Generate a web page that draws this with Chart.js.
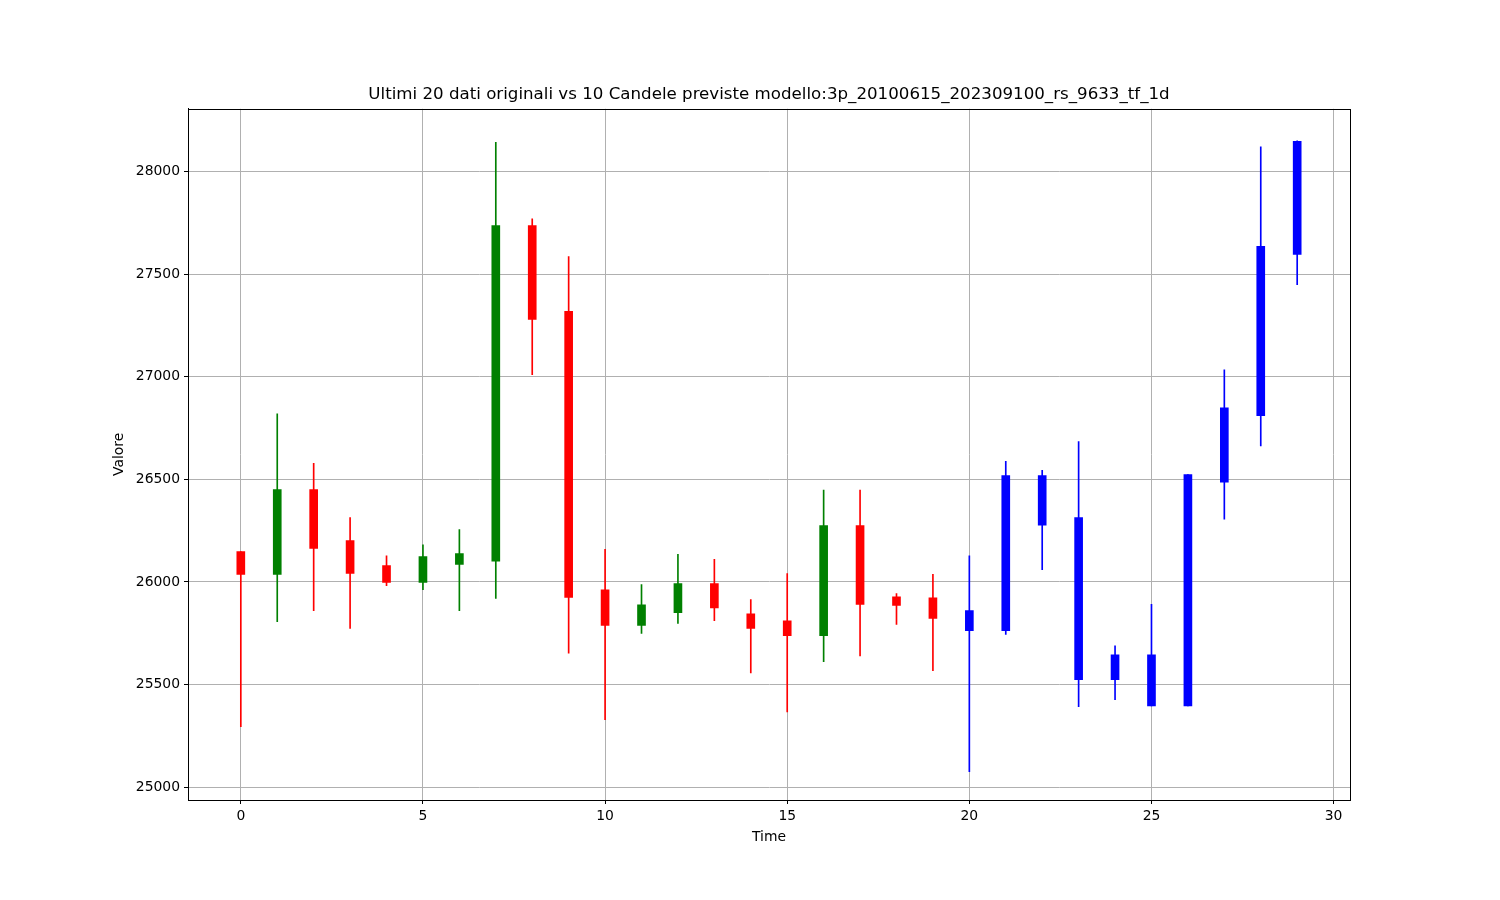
<!DOCTYPE html>
<html>
<head>
<meta charset="utf-8">
<script src="https://cdn.jsdelivr.net/npm/chart.js@4/dist/chart.umd.min.js"></script>
<style>
  html, body { margin: 0; padding: 0; background: #fff; }
  canvas { display: block; }
</style>
</head>
<body>
<canvas id="candleChart" width="1500" height="900"></canvas>
<script>
// dati: ultimi 20 originali + 10 candele previste
const times = [0, 1, 2, 3, 4, 5, 6, 7, 8, 9, 10, 11, 12, 13, 14, 15, 16, 17, 18, 19, 20, 21, 22, 23, 24, 25, 26, 27, 28, 29];
const nOriginali = 20;
const opens  = [26148, 26037, 26451, 26202, 26080, 25998, 26086, 26101, 27738, 27319, 25962, 25788, 25850, 25992, 25845, 25811, 25738, 26275, 25928, 25923,
                25860, 25762, 26519, 26314, 25524, 25645, 25396, 26487, 26811, 27597];
const closes = [26037, 26451, 26164, 26042, 25998, 26124, 26138, 27738, 27280, 25925, 25788, 25889, 25992, 25874, 25773, 25738, 26275, 25891, 25886, 25822,
                25762, 26519, 26277, 25524, 25645, 25396, 26524, 26849, 27636, 28148];
const highs  = [26148, 26820, 26578, 26314, 26128, 26181, 26255, 28143, 27771, 27587, 26159, 25987, 26135, 26110, 25914, 26041, 26448, 26448, 25943, 26037,
                26128, 26588, 26544, 26685, 25689, 25891, 26524, 27034, 28122, 28151];
const lows   = [25295, 25806, 25860, 25773, 25982, 25962, 25860, 25920, 27011, 25653, 25329, 25749, 25798, 25811, 25557, 25366, 25612, 25640, 25793, 25568,
                25075, 25744, 26060, 25392, 25426, 25396, 25396, 26306, 26663, 27450];

// etichette degli assi
const xTicks = [0, 5, 10, 15, 20, 25, 30];
const yTicks = [25000, 25500, 26000, 26500, 27000, 27500, 28000];

const colori = times.map((t, i) => {
    if (i >= nOriginali) return '#0000ff';
    return closes[i] >= opens[i] ? '#008000' : '#ff0000';
});

const bodyData = times.map((t, i) => ({ x: t, y: [Math.min(opens[i], closes[i]), Math.max(opens[i], closes[i])] }));
const wickData = times.map((t, i) => ({ x: t, y: [lows[i], highs[i]] }));

// cornice nera attorno all'area del grafico
const frame = {
    id: 'frame',
    afterDraw(chart) {
        const { ctx, chartArea: a } = chart;
        ctx.save();
        ctx.strokeStyle = '#000';
        ctx.lineWidth = 1;
        ctx.strokeRect(Math.round(a.left) + 0.5, Math.round(a.top) + 0.5, Math.round(a.right - a.left), Math.round(a.bottom - a.top));
        ctx.restore();
    }
};

const font = { family: 'DejaVu Sans', size: 13.9 };

new Chart(document.getElementById('candleChart'), {
    type: 'bar',
    data: {
        datasets: [
            {
                label: 'corpo',
                data: bodyData,
                backgroundColor: colori,
                borderWidth: 0,
                barThickness: 8,
                grouped: false
            },
            {
                label: 'ombra',
                data: wickData,
                backgroundColor: colori,
                borderWidth: 0,
                barThickness: 1,
                grouped: false
            }
        ]
    },
    options: {
        responsive: false,
        animation: false,
        layout: { padding: { left: 108, right: 150, top: 84.8, bottom: 50 } },
        plugins: {
            legend: { display: false },
            tooltip: { enabled: false },
            title: {
                display: true,
                fullSize: false,
                text: 'Ultimi 20 dati originali vs 10 Candele previste modello:3p_20100615_202309100_rs_9633_tf_1d',
                color: '#000',
                font: { family: 'DejaVu Sans', size: 16.67, weight: 'normal' },
                padding: { top: 0, bottom: 4 }
            }
        },
        scales: {
            x: {
                type: 'linear',
                offset: false,
                min: -1.45,
                max: 30.45,
                afterBuildTicks: (scale) => { scale.ticks = xTicks.map(v => ({ value: v })); },
                ticks: { color: '#000', font: font, padding: 4, maxRotation: 0 },
                grid: { color: '#b0b0b0', lineWidth: 1, offset: false, tickColor: '#000', tickLength: 4 },
                border: { color: '#000' },
                title: { display: true, text: 'Time', color: '#000', font: font, padding: { top: 0, bottom: 4 } },
                afterFit: (scale) => { scale.height = 50; }
            },
            y: {
                min: 24937,
                max: 28307,
                afterBuildTicks: (scale) => { scale.ticks = yTicks.map(v => ({ value: v })); },
                ticks: { color: '#000', font: font, padding: 4, callback: (v) => String(v) },
                grid: { color: '#b0b0b0', lineWidth: 1, tickColor: '#000', tickLength: 4 },
                border: { color: '#000' },
                title: { display: true, text: 'Valore', color: '#000', font: font, padding: { top: 3, bottom: 0 } },
                afterFit: (scale) => { scale.width = 80; }
            }
        }
    },
    plugins: [frame]
});
</script>
</body>
</html>
